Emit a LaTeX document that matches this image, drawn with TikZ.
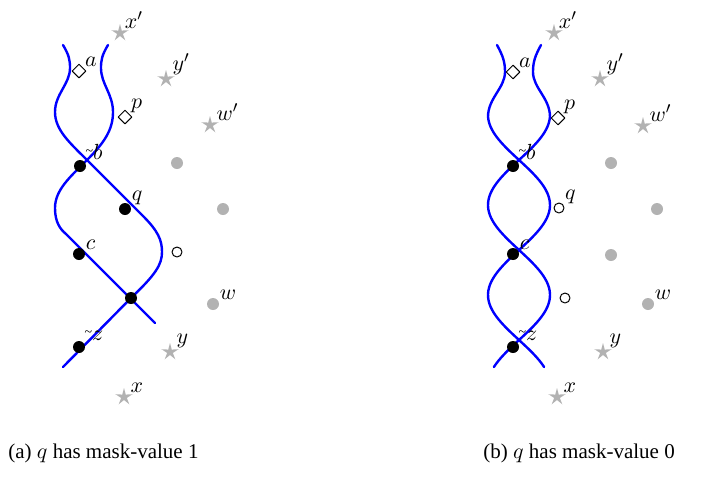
\documentclass[tikz,border=0pt]{standalone}
\usepackage{fontspec}
\setmainfont{Liberation Serif}
\usetikzlibrary{shapes.geometric}

\tikzset{
  strand/.style={blue, line width=1.2pt},
  full/.style={circle, fill=black, inner sep=0pt, minimum size=6pt},
  grey/.style={circle, fill=black!30, inner sep=0pt, minimum size=6pt},
  hollow/.style={circle, draw, line width=0.5pt, inner sep=0pt, minimum size=5pt},
  diam/.style={diamond, draw, line width=0.5pt, inner sep=0pt, minimum size=7pt},
  twin/.style={star, star points=5, star point ratio=3, fill=black!30, inner sep=0pt, minimum size=9pt},
  lbl/.style={inner sep=0.5pt, font=\fontsize{11}{12}\selectfont},
  caption/.style={anchor=west, inner sep=0pt, font=\fontsize{10.5}{12}\selectfont},
}
\newcommand{\tl}{{\scriptsize\raisebox{2pt}{\textasciitilde}}}

\begin{document}
\begin{tikzpicture}[x=0.5pt, y=-0.5pt, line join=round, line cap=round]
  \useasboundingbox (0,0) rectangle (707,477);

  % ================= (a) mask-value 1 =================
  \begin{scope}[shift={(0,0)}]
    \draw[strand] (63,45) .. controls (69,55) and (70,60) .. (70,68)
      .. controls (70,84) and (55,94) .. (55,112)
      .. controls (55,130) and (70,143) .. (87,160) -- (143,216)
      .. controls (158,231) and (162,240) .. (162,252)
      .. controls (162,265) and (155,275) .. (131,298) -- (63,367);
    \draw[strand] (108,45) .. controls (102,55) and (101,60) .. (101,68)
      .. controls (101,84) and (113,94) .. (113,112)
      .. controls (113,130) and (104,143) .. (87,160)
      .. controls (70,177) and (55,190) .. (55,208)
      .. controls (55,222) and (60,229) .. (66,234) -- (155,323);

    \node[twin, label={[lbl]40:$x'$}] (xp1) at (120,33) {};
    \node[diam, label={[lbl]30:$a$}] (a1) at (79,71) {};
    \node[twin, label={[lbl]30:$y'$}] (yp1) at (166,79) {};
    \node[diam, label={[lbl]30:$p$}] (p1) at (125,117) {};
    \node[twin, label={[lbl]30:$w'$}] (wp1) at (210,125) {};
    \node[full, label={[lbl]50:\tl$b$}] (b1) at (80,166) {};
    \node[grey] (g1) at (177,163) {};
    \node[full, label={[lbl]30:$q$}] (q1) at (125,209) {};
    \node[grey] (h1) at (223,209) {};
    \node[full, label={[lbl]30:$c$}] (c1) at (79,254) {};
    \node[hollow] (o1) at (177,252) {};
    \node[full] (m1) at (131,298) {};
    \node[grey, label={[lbl]30:$w$}] (w1) at (213,304) {};
    \node[full, label={[lbl]50:\tl$z$}] (z1) at (79,347) {};
    \node[twin, label={[lbl]30:$y$}] (y1) at (170,352) {};
    \node[twin, label={[lbl]30:$x$}] (x1) at (124,397) {};

    \node[caption] (capa) at (8,453) {(a) $q$ has mask-value 1};
  \end{scope}

  % ================= (b) mask-value 0 =================
  \begin{scope}[shift={(434,0)}]
    \draw[strand] (63,45) .. controls (69,56) and (71,62) .. (71,72)
      .. controls (71,88) and (54,98) .. (54,117)
      -- plot[domain=117:367, samples=80, smooth] ({85+31*sin(2*(\x-160))}, \x);
    \draw[strand] (107,45) .. controls (101,56) and (99,62) .. (99,72)
      .. controls (99,88) and (116,98) .. (116,117)
      -- plot[domain=117:367, samples=80, smooth] ({85-31*sin(2*(\x-160))}, \x);

    \node[twin, label={[lbl]40:$x'$}] (xp2) at (120,33) {};
    \node[diam, label={[lbl]30:$a$}] (a2) at (79,72) {};
    \node[twin, label={[lbl]30:$y'$}] (yp2) at (166,79) {};
    \node[diam, label={[lbl]30:$p$}] (p2) at (124,118) {};
    \node[twin, label={[lbl]30:$w'$}] (wp2) at (209,126) {};
    \node[full, label={[lbl]50:\tl$b$}] (b2) at (79,166) {};
    \node[grey] (g2) at (177,163) {};
    \node[hollow, label={[lbl]30:$q$}] (q2) at (125,208) {};
    \node[grey] (h2) at (223,209) {};
    \node[full, label={[lbl]30:$c$}] (c2) at (79,254) {};
    \node[grey] (o2) at (177,255) {};
    \node[hollow] (m2) at (131,298) {};
    \node[grey, label={[lbl]30:$w$}] (w2) at (214,304) {};
    \node[full, label={[lbl]50:\tl$z$}] (z2) at (79,347) {};
    \node[twin, label={[lbl]30:$y$}] (y2) at (169,352) {};
    \node[twin, label={[lbl]30:$x$}] (x2) at (123,397) {};

    \node[caption] (capb) at (49,453) {(b) $q$ has mask-value 0};
  \end{scope}

\end{tikzpicture}
\end{document}
